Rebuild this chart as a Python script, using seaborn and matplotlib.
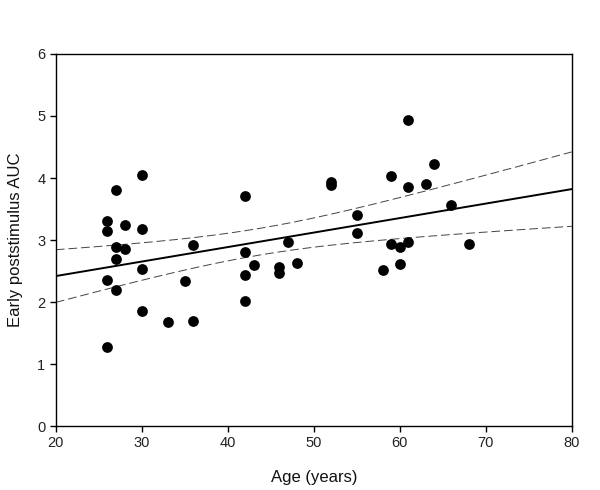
import numpy as np
import matplotlib
matplotlib.use("Agg")
import matplotlib.pyplot as plt
import seaborn as sns
import pandas as pd

# age (years) and early poststimulus AUC
age = [26, 26, 26, 26, 27, 27, 27, 27, 28, 28, 30, 30, 30, 30, 33, 35, 36, 36,
       42, 42, 42, 42, 43, 46, 46, 47, 48, 52, 52, 55, 55, 58, 59, 59, 60, 60,
       61, 61, 61, 63, 64, 66, 68]
auc = [1.27, 2.35, 3.14, 3.31, 3.80, 2.88, 2.70, 2.20, 3.25, 2.85, 4.05, 3.18,
       2.53, 1.85, 1.68, 2.34, 2.92, 1.69, 3.71, 2.80, 2.44, 2.01, 2.59, 2.56,
       2.47, 2.96, 2.63, 3.93, 3.88, 3.40, 3.12, 2.51, 4.03, 2.94, 2.88, 2.61,
       4.93, 3.86, 2.96, 3.90, 4.23, 3.57, 2.93]

df = pd.DataFrame({"age": age, "auc": auc})

sns.set_style("ticks")
plt.rcParams["font.family"] = ["Liberation Sans", "DejaVu Sans"]

fig = plt.figure(figsize=(6, 4.9), dpi=100)
ax = fig.add_axes([0.093, 0.1306, 0.86, 0.7592])

sns.scatterplot(data=df, x="age", y="auc", ax=ax, color="black", s=60,
                edgecolor="black", linewidth=0, zorder=3)

# linear fit with 95% confidence band
x = df["age"].to_numpy(float)
y = df["auc"].to_numpy(float)
n = len(x)
b, a = np.polyfit(x, y, 1)
resid = y - (a + b * x)
s = np.sqrt(np.sum(resid ** 2) / (n - 2))
xm = x.mean()
sxx = np.sum((x - xm) ** 2)
xs = np.linspace(20, 80, 200)
yfit = a + b * xs
t = 2.018
half = t * s * np.sqrt(1 / n + (xs - xm) ** 2 / sxx)
ax.plot(xs, yfit, color="black", lw=1.4)
ax.plot(xs, yfit + half, color="#444444", lw=0.7, ls=(0, (9, 4)))
ax.plot(xs, yfit - half, color="#444444", lw=0.7, ls=(0, (9, 4)))

ax.set_xlim(20, 80)
ax.set_ylim(0, 6)
ax.set_xticks(range(20, 81, 10))
ax.set_yticks(range(0, 7))
ax.tick_params(direction="out", length=4, width=1, labelsize=10.5,
               colors="black", labelcolor="#222222")
for sp in ax.spines.values():
    sp.set_color("black")
    sp.set_linewidth(1)
ax.set_xlabel("Age (years)", fontsize=12, labelpad=14, color="#111111")
ax.set_ylabel("Early poststimulus AUC", fontsize=12, labelpad=10, color="#111111")

fig.savefig("out.png", dpi=100)
